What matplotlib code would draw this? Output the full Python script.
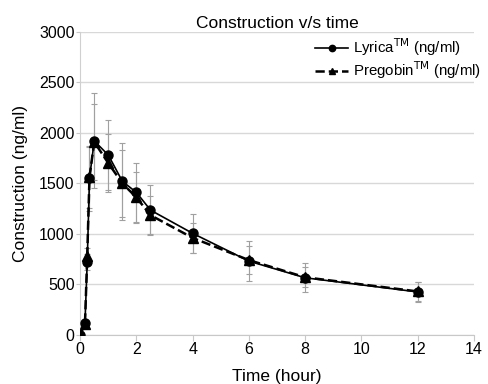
import numpy as np
import matplotlib.pyplot as plt

plt.rcParams['font.family'] = ['Liberation Sans', 'DejaVu Sans']

# data
time = [0, 0.17, 0.25, 0.33, 0.5, 1, 1.5, 2, 2.5, 4, 6, 8, 12]
lyrica = [0, 120, 720, 1550, 1920, 1780, 1520, 1410, 1235, 1005, 730, 565, 425]
lyrica_err = [0, 30, 80, 320, 470, 350, 380, 290, 245, 195, 200, 145, 95]
pregobin = [0, 110, 780, 1560, 1910, 1700, 1500, 1360, 1185, 960, 740, 570, 430]
pregobin_err = [0, 30, 80, 300, 380, 290, 330, 250, 185, 150, 135, 100, 90]

fig = plt.figure(figsize=(4.89, 3.84), dpi=100)
ax = fig.add_axes([0.164, 0.128, 0.805, 0.789])

ax.errorbar(time, lyrica, yerr=lyrica_err, fmt='none', ecolor='#a0a0a0',
            elinewidth=0.8, capsize=2.5, capthick=0.8, zorder=2)
ax.errorbar(time, pregobin, yerr=pregobin_err, fmt='none', ecolor='#a0a0a0',
            elinewidth=0.8, capsize=2.5, capthick=0.8, zorder=2)
ax.plot(time, lyrica, color='black', linestyle='-', linewidth=1.2, marker='o',
        markersize=6.5, label='Lyrica$^{\\mathrm{TM}}$ (ng/ml)', zorder=3)
ax.plot(time, pregobin, color='black', linestyle='--', linewidth=1.8, marker='^',
        markersize=6.5, label='Pregobin$^{\\mathrm{TM}}$ (ng/ml)', zorder=3)

ax.set_xlim(0, 14)
ax.set_ylim(0, 3000)
ax.set_xticks(np.arange(0, 15, 2))
ax.set_yticks(np.arange(0, 3001, 500))
ax.yaxis.grid(True, color='#d8d8d8', linewidth=1.0)
ax.set_axisbelow(True)
for s in ['top', 'right']:
    ax.spines[s].set_visible(False)
ax.spines['left'].set_color('#d0d0d0')
ax.spines['bottom'].set_color('#c8c8c8')
ax.tick_params(axis='y', length=3, color='#c8c8c8', labelsize=11.5, pad=1)
ax.tick_params(axis='x', length=4, color='#c8c8c8', labelsize=11.5, pad=1)

ax.set_title('Construction v/s time', fontsize=12.5, pad=3)
ax.set_xlabel('Time (hour)', fontsize=12.5, labelpad=9)
ax.set_ylabel('Construction (ng/ml)', fontsize=12.5, labelpad=8)

leg = ax.legend(loc='upper right', bbox_to_anchor=(1.045, 1.02), frameon=True,
                fontsize=10.8, handlelength=2.2, handletextpad=0.3,
                borderpad=0.2, labelspacing=0.1, markerscale=0.7)
leg.get_frame().set_alpha(0)

plt.savefig('out.png', dpi=100)
